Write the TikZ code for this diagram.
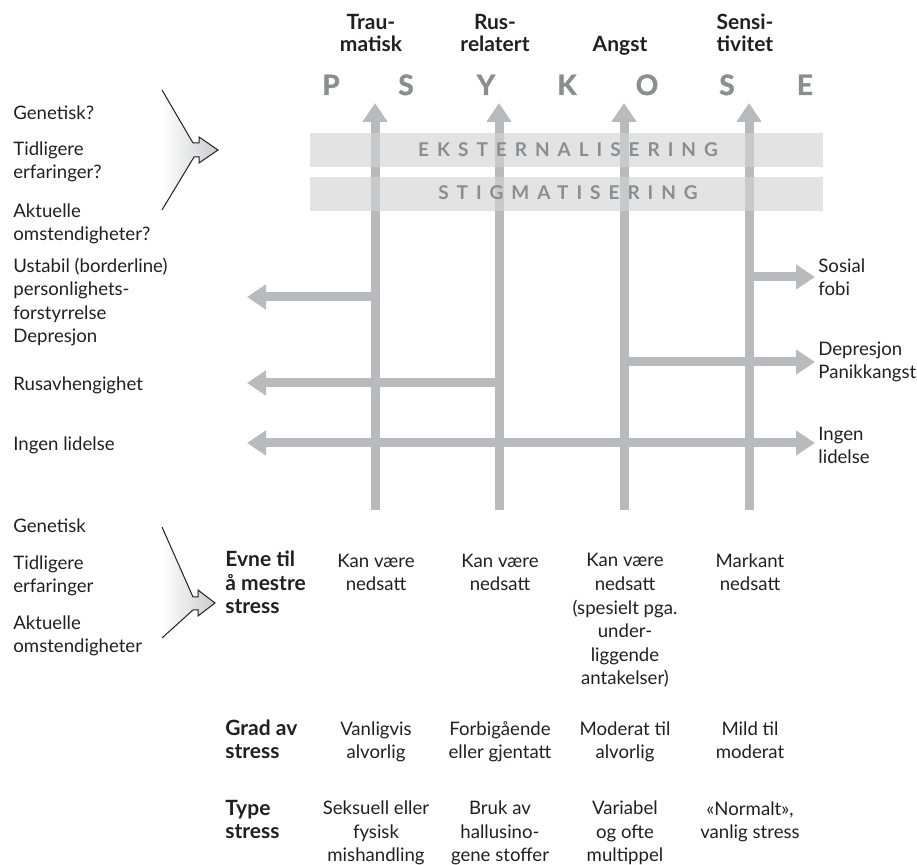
\documentclass[tikz,border=0pt]{standalone}
\usepackage{fontspec}
\setmainfont{Lato}
\usepackage{tikz}
\usetikzlibrary{arrows.meta}
\definecolor{pilgraa}{HTML}{B9BABD}
\definecolor{bandgraa}{HTML}{D2D3D4}
\definecolor{tekstgraa}{HTML}{8C8D8F}
\definecolor{dark}{HTML}{231F20}
\newfontfamily\sperret[LetterSpace=42]{Lato}
\newfontfamily\tung[FakeBold=1.6]{Lato}

\tikzset{
  spiss/.tip={Triangle[length=9.5pt,width=12pt]},
  pil/.style={draw=pilgraa, line width=4.5pt},
  band/.style={fill=bandgraa, fill opacity=0.63},
  tekst/.style={inner sep=0pt, text=dark, font=\fontsize{9.3}{11.8}\selectfont},
  venstre/.style={tekst, anchor=base west, align=left},
  midt/.style={tekst, anchor=base, align=center},
  hode/.style={midt, font=\fontsize{10.5}{11}\selectfont\bfseries},
  rad/.style={venstre, font=\fontsize{10.5}{11.8}\selectfont\bfseries},
  bokstav/.style={inner sep=0pt, anchor=base, text=tekstgraa,
    font=\fontsize{14}{14}\selectfont\tung\bfseries},
  bandtekst/.style={inner sep=0pt, anchor=base, text=tekstgraa,
    font=\fontsize{9.5}{10}\selectfont\sperret\bfseries},
}

\begin{document}
\begin{tikzpicture}[x=0.5pt, y=-0.5pt]
  \useasboundingbox (0,0) rectangle (917,865);

  % Loddrette piler (ett spor per type)
  \coordinate (T0) at (375,510);  \coordinate (T1) at (375,103);
  \coordinate (R0) at (499,510);  \coordinate (R1) at (499,103);
  \coordinate (A0) at (624,510);  \coordinate (A1) at (624,103);
  \coordinate (S0) at (749,510);  \coordinate (S1) at (749,103);

  % Avgreininger
  \coordinate (Tv) at (375,297);  \coordinate (Lv1) at (247,297);
  \coordinate (Rv) at (499,383);  \coordinate (Lv2) at (247,383);
  \coordinate (Lv3) at (247,443); \coordinate (Hh3) at (815,443);
  \coordinate (Sh) at (749,277);  \coordinate (Hh1) at (815,277);
  \coordinate (Ah) at (624,362);  \coordinate (Hh2) at (815,362);

  \draw[pil, -spiss] (T0) -- (T1);
  \draw[pil, -spiss] (R0) -- (R1);
  \draw[pil, -spiss] (A0) -- (A1);
  \draw[pil, -spiss] (S0) -- (S1);

  \draw[pil, -spiss] (Tv) -- (Lv1);
  \draw[pil, -spiss] (Rv) -- (Lv2);
  \draw[pil, spiss-spiss] (Lv3) -- (Hh3);
  \draw[pil, -spiss] (Sh) -- (Hh1);
  \draw[pil, -spiss] (Ah) -- (Hh2);

  % Baand over pilene
  \fill[band] (310,133) rectangle (823,167);
  \fill[band] (310,177) rectangle (823,211);
  \node[bandtekst] (ekst) at (568,157) {EKSTERNALISERING};
  \node[bandtekst] (stigma) at (568,200) {STIGMATISERING};

  % P S Y K O S E
  \node[bokstav] (P)  at (331,95) {P};
  \node[bokstav] (S)  at (406,95) {S};
  \node[bokstav] (Y)  at (486,95) {Y};
  \node[bokstav] (K)  at (567,95) {K};
  \node[bokstav] (O)  at (647,95) {O};
  \node[bokstav] (S2) at (727,95) {S};
  \node[bokstav] (E)  at (805,95) {E};

  % Typer (grunnlinje = siste linje)
  \node[hode] (trau)  at (371,52) {Trau-\\matisk};
  \node[hode] (rus)   at (495,52) {Rus-\\relatert};
  \node[hode] (angst) at (620,52) {Angst};
  \node[hode] (sensi) at (745,52) {Sensi-\\tivitet};

  % Saarbarhet (oppe og nede)
  \shade[left color=white, right color=pilgraa!75]
    (162,90) -- (193,143) -- (199,143) -- (199,137) -- (218,150)
    -- (199,163) -- (199,157) -- (194,157) -- (162,210) -- cycle;
  \draw[dark, line width=0.5pt]
    (162,90) -- (193,143) -- (199,143) -- (199,137) -- (218,150)
    -- (199,163) -- (199,157) -- (194,157) -- (162,210);
  \shade[left color=white, right color=pilgraa!75]
    (162,527) -- (193,597) -- (198,597) -- (198,590) -- (215,603)
    -- (198,616) -- (198,610) -- (193,610) -- (162,638) -- cycle;
  \draw[dark, line width=0.5pt]
    (162,527) -- (193,597) -- (198,597) -- (198,590) -- (215,603)
    -- (198,616) -- (198,610) -- (193,610) -- (162,638);

  \node[venstre] (gen1) at (13,120) {Genetisk?};
  \node[venstre] (tid1) at (13,179) {Tidligere\\erfaringer?};
  \node[venstre] (akt1) at (13,241) {Aktuelle\\omstendigheter?};

  % Utfall til venstre og hoeyre
  \node[venstre] (ustabil) at (13,343)
    {Ustabil (borderline)\\personlighets-\\forstyrrelse\\Depresjon};
  \node[venstre] (rusavh) at (13,391) {Rusavhengighet};
  \node[venstre] (ingenV) at (13,451) {Ingen lidelse};
  \node[venstre] (sosial) at (818,296) {Sosial\\fobi};
  \node[venstre] (depr)   at (818,379) {Depresjon\\Panikkangst};
  \node[venstre] (ingenH) at (818,464) {Ingen\\lidelse};

  \node[venstre] (gen2) at (13,533) {Genetisk};
  \node[venstre] (tid2) at (13,593) {Tidligere\\erfaringer};
  \node[venstre] (akt2) at (13,653) {Aktuelle\\omstendigheter};

  % Tabell under
  \node[rad] (evne) at (225,614) {Evne til\\å mestre\\stress};
  \node[rad] (grad) at (225,759) {Grad av\\stress};
  \node[rad] (type) at (225,839) {Type\\stress};

  \node[midt] (e1) at (376,591) {Kan være\\nedsatt};
  \node[midt] (e2) at (500,591) {Kan være\\nedsatt};
  \node[midt] (e3) at (625,685)
    {Kan være\\nedsatt\\(spesielt pga.\\under-\\liggende\\antakelser)};
  \node[midt] (e4) at (750,591) {Markant\\nedsatt};

  \node[midt] (g1) at (376,759) {Vanligvis\\alvorlig};
  \node[midt] (g2) at (500,759) {Forbigående\\eller gjentatt};
  \node[midt] (g3) at (625,759) {Moderat til\\alvorlig};
  \node[midt] (g4) at (750,759) {Mild til\\moderat};

  \node[midt] (t1) at (376,862) {Seksuell eller\\fysisk\\mishandling};
  \node[midt] (t2) at (500,862) {Bruk av\\hallusino-\\gene stoffer};
  \node[midt] (t3) at (625,862) {Variabel\\og ofte\\multippel};
  \node[midt] (t4) at (750,839) {«Normalt»,\\vanlig stress};
\end{tikzpicture}
\end{document}
